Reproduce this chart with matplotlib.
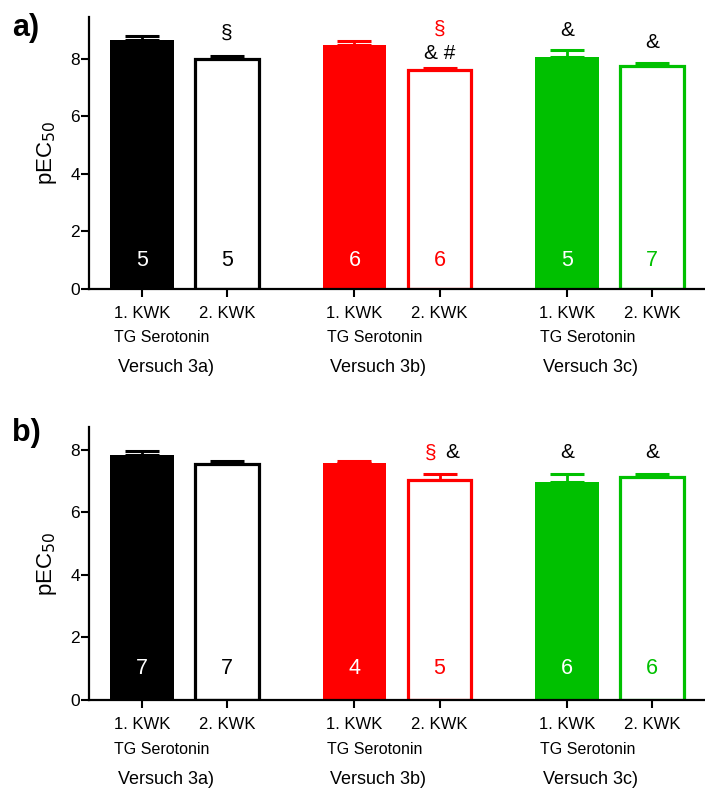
import matplotlib
matplotlib.use("Agg")
import matplotlib.pyplot as plt
from matplotlib.transforms import blended_transform_factory

plt.rcParams["font.family"] = ["Liberation Sans", "DejaVu Sans"]

RED = "#ff0000"
GREEN = "#00c000"

bar_labels = ["1. KWK", "2. KWK"] * 3
groups = ["Versuch 3a)", "Versuch 3b)", "Versuch 3c)"]
subgroup = "TG Serotonin"

# mean pEC50 and SEM for the six bars
means_a = [8.65, 8.00, 8.46, 7.60, 8.04, 7.75]
errs_a = [0.14, 0.07, 0.14, 0.07, 0.26, 0.11]
n_a = [5, 5, 6, 6, 5, 7]

means_b = [7.83, 7.54, 7.57, 7.03, 6.95, 7.11]
errs_b = [0.12, 0.09, 0.07, 0.19, 0.27, 0.11]
n_b = [7, 7, 4, 5, 6, 6]

colors = ["black", "black", RED, RED, GREEN, GREEN]
filled = [True, False, True, False, True, False]
positions = [0, 1, 2.5, 3.5, 5, 6]

# significance marks: (bar index, text, colour, x offset, y)
marks_a = [
    (1, "§", "black", 0.0, 8.89),
    (3, "§", RED, 0.0, 9.03),
    (3, "& #", "black", 0.0, 8.19),
    (4, "&", "black", 0.0, 8.96),
    (5, "&", "black", 0.0, 8.54),
]
marks_b = [
    (3, "§", RED, -0.1, 7.89),
    (3, "&", "black", 0.15, 7.89),
    (4, "&", "black", 0.0, 7.89),
    (5, "&", "black", 0.0, 7.89),
]


def draw_panel(ax, means, errs, ns, marks, ytop, n_y):
    width = 0.75
    for x, m, e, c, f, n in zip(positions, means, errs, colors, filled, ns):
        if f:
            ax.bar(x, m, width, color=c, edgecolor=c, linewidth=0, zorder=2)
            txt_color = "white"
        else:
            ax.bar(x, m, width, facecolor="white", edgecolor=c, linewidth=2.3, zorder=2)
            txt_color = c
        ax.errorbar(x, m, yerr=[[0], [e]], color=c, capsize=12.5, capthick=2.2,
                    elinewidth=2.0, zorder=1)
        ax.text(x, n_y, str(n), color=txt_color, ha="center", va="center",
                fontsize=15.5, zorder=3)

    for i, s, c, dx, y in marks:
        ax.text(positions[i] + dx, y, s, color=c, ha="center", va="center", fontsize=15)

    ax.set_xlim(-0.62, 6.62)
    ax.set_ylim(0, ytop)
    ax.set_yticks([0, 2, 4, 6, 8])
    ax.set_xticks(positions)
    ax.set_xticklabels(bar_labels, fontsize=12)
    ax.tick_params(axis="both", direction="out", length=6, width=1.5, labelsize=12.5)
    ax.tick_params(axis="y", length=5.5, pad=1)
    ax.tick_params(axis="x", pad=6, labelsize=12)
    ax.spines["top"].set_visible(False)
    ax.spines["right"].set_visible(False)
    ax.spines["left"].set_linewidth(1.6)
    ax.spines["bottom"].set_linewidth(1.6)
    ax.set_ylabel("pEC$_{50}$", fontsize=16, labelpad=8)

    trans = blended_transform_factory(ax.transData, ax.transAxes)
    for k, g in enumerate(groups):
        x0 = positions[2 * k]
        ax.text(x0 + 0.24, -0.18, subgroup, transform=trans, ha="center",
                va="center", fontsize=11.5)
        ax.text(x0 + 0.28, -0.29, g, transform=trans, ha="center",
                va="center", fontsize=13)


fig = plt.figure(figsize=(7.05, 7.92), dpi=100)
ax_a = fig.add_axes([0.1262, 0.6351, 0.8738, 0.3434])
ax_b = fig.add_axes([0.1262, 0.1162, 0.8738, 0.3447])

draw_panel(ax_a, means_a, errs_a, n_a, marks_a, 9.44, 1.0)
draw_panel(ax_b, means_b, errs_b, n_b, marks_b, 8.72, 1.02)

# panel tags
fig.text(12 / 705, 1 - 28 / 792, "a)", fontsize=22, fontweight="bold",
         ha="left", va="center")
fig.text(12 / 705, 1 - 433 / 792, "b)", fontsize=22, fontweight="bold",
         ha="left", va="center")

fig.savefig("out.png", dpi=100)
